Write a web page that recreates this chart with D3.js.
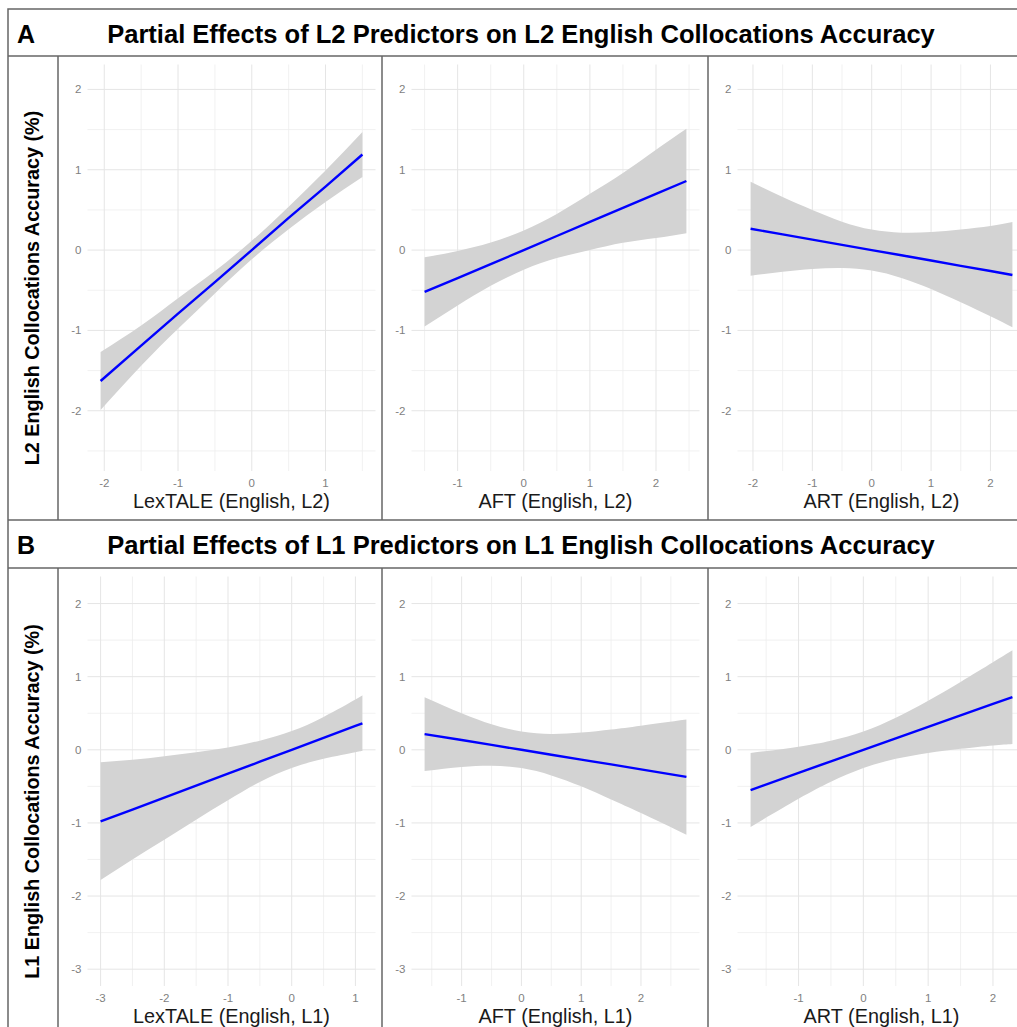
<!DOCTYPE html>
<html>
<head>
    <title>Partial Effects of Predictors on English Collocations Accuracy</title>
    <script src="https://d3js.org/d3.v7.min.js"></script>
    <style>
        * { margin: 0; padding: 0; box-sizing: border-box; }
        body { background: #ffffff; overflow: hidden; font-family: 'Liberation Sans', Arial, sans-serif; }
        .grid-major { stroke: #e5e5e5; stroke-width: 1px; }
        .grid-minor { stroke: #ededed; stroke-width: 0.8px; }
        .tick-label { fill: #7f7f7f; font-size: 11.5px; }
        .frame { stroke: #666666; stroke-width: 1.5px; fill: none; }
        .band { fill: #d3d3d3; }
        .fit { fill: none; stroke: #0000ff; stroke-width: 2.4px; }
    </style>
</head>
<body>
<div id="chart"></div>
<script>
    // Rows are [x, lower CI, fitted, upper CI]
    const lexL2 = [
        [-2.05, -1.99, -1.63, -1.27], [-1.5, -1.44, -1.19, -0.94], [-1, -0.98, -0.79, -0.60],
        [-0.5, -0.54, -0.40, -0.26], [0, -0.115, 0.0, 0.115], [0.5, 0.26, 0.40, 0.54],
        [1, 0.60, 0.79, 0.99], [1.5, 0.91, 1.19, 1.47]
    ];
    const aftL2 = [
        [-1.5, -0.95, -0.52, -0.09], [-1, -0.69, -0.35, -0.01], [-0.5, -0.445, -0.175, 0.095],
        [0, -0.245, 0.0, 0.245], [0.5, -0.10, 0.175, 0.45], [1, 0.0, 0.35, 0.70],
        [1.5, 0.09, 0.525, 0.96], [2, 0.15, 0.70, 1.25], [2.46, 0.21, 0.86, 1.51]
    ];
    const artL2 = [
        [-2.04, -0.32, 0.265, 0.85], [-1.5, -0.27, 0.196, 0.66], [-1, -0.236, 0.13, 0.50],
        [-0.5, -0.224, 0.065, 0.354], [0, -0.255, 0.0, 0.255], [0.5, -0.347, -0.065, 0.217],
        [1, -0.485, -0.13, 0.225], [1.5, -0.65, -0.196, 0.257], [2, -0.824, -0.261, 0.30],
        [2.37, -0.96, -0.31, 0.35]
    ];
    const lexL1 = [
        [-3, -1.78, -0.98, -0.17], [-2.5, -1.50, -0.817, -0.137], [-2, -1.23, -0.654, -0.087],
        [-1.5, -0.955, -0.49, -0.032], [-1, -0.69, -0.327, 0.033], [-0.5, -0.44, -0.163, 0.125],
        [0, -0.25, 0.0, 0.256], [0.5, -0.123, 0.163, 0.449], [1, -0.033, 0.327, 0.687],
        [1.11, -0.017, 0.363, 0.745]
    ];
    const aftL1 = [
        [-1.62, -0.29, 0.215, 0.72], [-1, -0.235, 0.134, 0.50], [-0.5, -0.217, 0.067, 0.35],
        [0, -0.25, 0.0, 0.25], [0.5, -0.35, -0.067, 0.217], [1, -0.50, -0.134, 0.235],
        [1.5, -0.68, -0.2, 0.277], [2, -0.864, -0.267, 0.33], [2.76, -1.16, -0.37, 0.415]
    ];
    const artL1 = [
        [-1.74, -1.055, -0.55, -0.045], [-1, -0.671, -0.314, 0.043], [-0.5, -0.438, -0.157, 0.124],
        [0, -0.25, 0.0, 0.25], [0.5, -0.124, 0.157, 0.438], [1, -0.043, 0.314, 0.671],
        [1.5, 0.014, 0.471, 0.928], [2, 0.06, 0.628, 1.196], [2.30, 0.08, 0.72, 1.36]
    ];

    // Axis limits and ticks
    const yLimitsA = [-2.75, 2.31];
    const yLimitsB = [-3.23, 2.37];
    const yTicksA = [-2, -1, 0, 1, 2];
    const yTicksB = [-3, -2, -1, 0, 1, 2];
    const xTicksLexL2 = [-2, -1, 0, 1];
    const xTicksAftL2 = [-1, 0, 1, 2];
    const xTicksArtL2 = [-2, -1, 0, 1, 2];
    const xTicksLexL1 = [-3, -2, -1, 0, 1];
    const xTicksAftL1 = [-1, 0, 1, 2];
    const xTicksArtL1 = [-1, 0, 1, 2];

    const rowTitles = [
        "Partial Effects of L2 Predictors on L2 English Collocations Accuracy",
        "Partial Effects of L1 Predictors on L1 English Collocations Accuracy"
    ];
    const rowLetters = ["A", "B"];
    const rowYLabels = ["L2 English Collocations Accuracy (%)", "L1 English Collocations Accuracy (%)"];
    const xLabels = [
        ["LexTALE (English, L2)", "AFT (English, L2)", "ART (English, L2)"],
        ["LexTALE (English, L1)", "AFT (English, L1)", "ART (English, L1)"]
    ];

    const panels = [
        {row: 0, col: 0, data: lexL2, xTicks: xTicksLexL2},
        {row: 0, col: 1, data: aftL2, xTicks: xTicksAftL2},
        {row: 0, col: 2, data: artL2, xTicks: xTicksArtL2},
        {row: 1, col: 0, data: lexL1, xTicks: xTicksLexL1},
        {row: 1, col: 1, data: aftL1, xTicks: xTicksAftL1},
        {row: 1, col: 2, data: artL1, xTicks: xTicksArtL1}
    ];

    // Layout (figure is wider/taller than the window, as in the original crop)
    const W = 1017, H = 1027;
    const frameLeft = 8, frameTop = 9, frameRight = 1034, frameBottom = 1035;
    const colEdges = [58, 382, 708, 1034];
    const rowTops = [9, 520];           // header tops
    const headerH = [47, 48];
    const rowBottoms = [520, 1035];
    const plotInsetLeft = 29.5, plotW = 288;
    const plotInsetTop = 8.5, plotInsetBottom = 49;

    const svg = d3.select("#chart").append("svg")
        .attr("width", W)
        .attr("height", H);

    function fitText(sel, target) {
        const w = sel.node().getComputedTextLength();
        const fs = parseFloat(sel.style("font-size"));
        const size = fs * target / w;
        sel.style("font-size", size + "px");
        return size;
    }

    // font size for the x axis titles, taken from the LexTALE label width
    const probe = svg.append("text").style("font-size", "16px").text(xLabels[0][0]);
    const xTitleSize = fitText(probe, 197);
    probe.remove();

    // Draw panels
    panels.forEach(p => {
        const x0 = colEdges[p.col] + plotInsetLeft;
        const y0 = rowTops[p.row] + headerH[p.row] + plotInsetTop;
        const y1 = rowBottoms[p.row] - plotInsetBottom;
        const yLim = p.row === 0 ? yLimitsA : yLimitsB;
        const yTicks = p.row === 0 ? yTicksA : yTicksB;

        const ext = d3.extent(p.data, d => d[0]);
        const pad = (ext[1] - ext[0]) * 0.05;
        const x = d3.scaleLinear().domain([ext[0] - pad, ext[1] + pad]).range([x0, x0 + plotW]);
        const y = d3.scaleLinear().domain(yLim).range([y1, y0]);

        const g = svg.append("g");

        // minor gridlines at midpoints
        const xt = p.xTicks;
        const xStep = xt[1] - xt[0];
        const xMinor = [xt[0] - xStep / 2].concat(xt.map(t => t + xStep / 2))
            .filter(v => v >= x.domain()[0] && v <= x.domain()[1]);
        const yMinor = [yTicks[0] - 0.5].concat(yTicks.map(t => t + 0.5))
            .filter(v => v >= yLim[0] && v <= yLim[1]);

        g.selectAll(".ym").data(yMinor).join("line")
            .attr("class", "grid-minor")
            .attr("x1", x0).attr("x2", x0 + plotW)
            .attr("y1", d => y(d)).attr("y2", d => y(d));
        g.selectAll(".xm").data(xMinor).join("line")
            .attr("class", "grid-minor")
            .attr("x1", d => x(d)).attr("x2", d => x(d))
            .attr("y1", y0).attr("y2", y1);
        g.selectAll(".yM").data(yTicks).join("line")
            .attr("class", "grid-major")
            .attr("x1", x0).attr("x2", x0 + plotW)
            .attr("y1", d => y(d)).attr("y2", d => y(d));
        g.selectAll(".xM").data(xt).join("line")
            .attr("class", "grid-major")
            .attr("x1", d => x(d)).attr("x2", d => x(d))
            .attr("y1", y0).attr("y2", y1);

        // confidence band
        const area = d3.area()
            .curve(d3.curveNatural)
            .x(d => x(d[0]))
            .y0(d => y(d[1]))
            .y1(d => y(d[3]));
        g.append("path").datum(p.data).attr("class", "band").attr("d", area);

        // fitted line
        const line = d3.line().x(d => x(d[0])).y(d => y(d[2]));
        g.append("path").datum(p.data).attr("class", "fit").attr("d", line);

        // tick labels
        g.selectAll(".xl").data(xt).join("text")
            .attr("class", "tick-label")
            .attr("x", d => x(d))
            .attr("y", y1 + 15.5)
            .attr("text-anchor", "middle")
            .text(d => String(d));
        g.selectAll(".yl").data(yTicks).join("text")
            .attr("class", "tick-label")
            .attr("x", x0 - 6)
            .attr("y", d => y(d) + 4)
            .attr("text-anchor", "end")
            .text(d => String(d));

        // x axis title
        g.append("text")
            .attr("x", x0 + plotW / 2)
            .attr("y", y1 + 36.5)
            .attr("text-anchor", "middle")
            .style("font-size", xTitleSize + "px")
            .style("fill", "#1a1a1a")
            .text(xLabels[p.row][p.col]);
    });

    // Headers and y titles
    [0, 1].forEach(r => {
        const top = rowTops[r];
        svg.append("text")
            .attr("x", 17)
            .attr("y", top + 34)
            .style("font-size", "25px")
            .style("font-weight", "bold")
            .text(rowLetters[r]);
        const t = svg.append("text")
            .attr("x", (frameLeft + frameRight) / 2)
            .attr("y", top + 33.5)
            .attr("text-anchor", "middle")
            .style("font-size", "22px")
            .style("font-weight", "bold")
            .text(rowTitles[r]);
        fitText(t, 828);

        const midY = (top + headerH[r] + rowBottoms[r]) / 2;
        const yl = svg.append("text")
            .attr("transform", `translate(39,${midY}) rotate(-90)`)
            .attr("text-anchor", "middle")
            .style("font-size", "17px")
            .style("font-weight", "bold")
            .text(rowYLabels[r]);
        fitText(yl, 355);
    });

    // Frame lines
    svg.append("rect").attr("class", "frame")
        .attr("x", frameLeft).attr("y", frameTop)
        .attr("width", frameRight - frameLeft).attr("height", frameBottom - frameTop);
    [0, 1].forEach(r => {
        const hb = rowTops[r] + headerH[r];
        svg.append("line").attr("class", "frame")
            .attr("x1", frameLeft).attr("x2", frameRight).attr("y1", hb).attr("y2", hb);
        if (r === 1) {
            svg.append("line").attr("class", "frame")
                .attr("x1", frameLeft).attr("x2", frameRight)
                .attr("y1", rowTops[r]).attr("y2", rowTops[r]);
        }
        colEdges.slice(0, 3).forEach(cx => {
            svg.append("line").attr("class", "frame")
                .attr("x1", cx).attr("x2", cx).attr("y1", hb).attr("y2", rowBottoms[r]);
        });
    });
</script>
</body>
</html>
